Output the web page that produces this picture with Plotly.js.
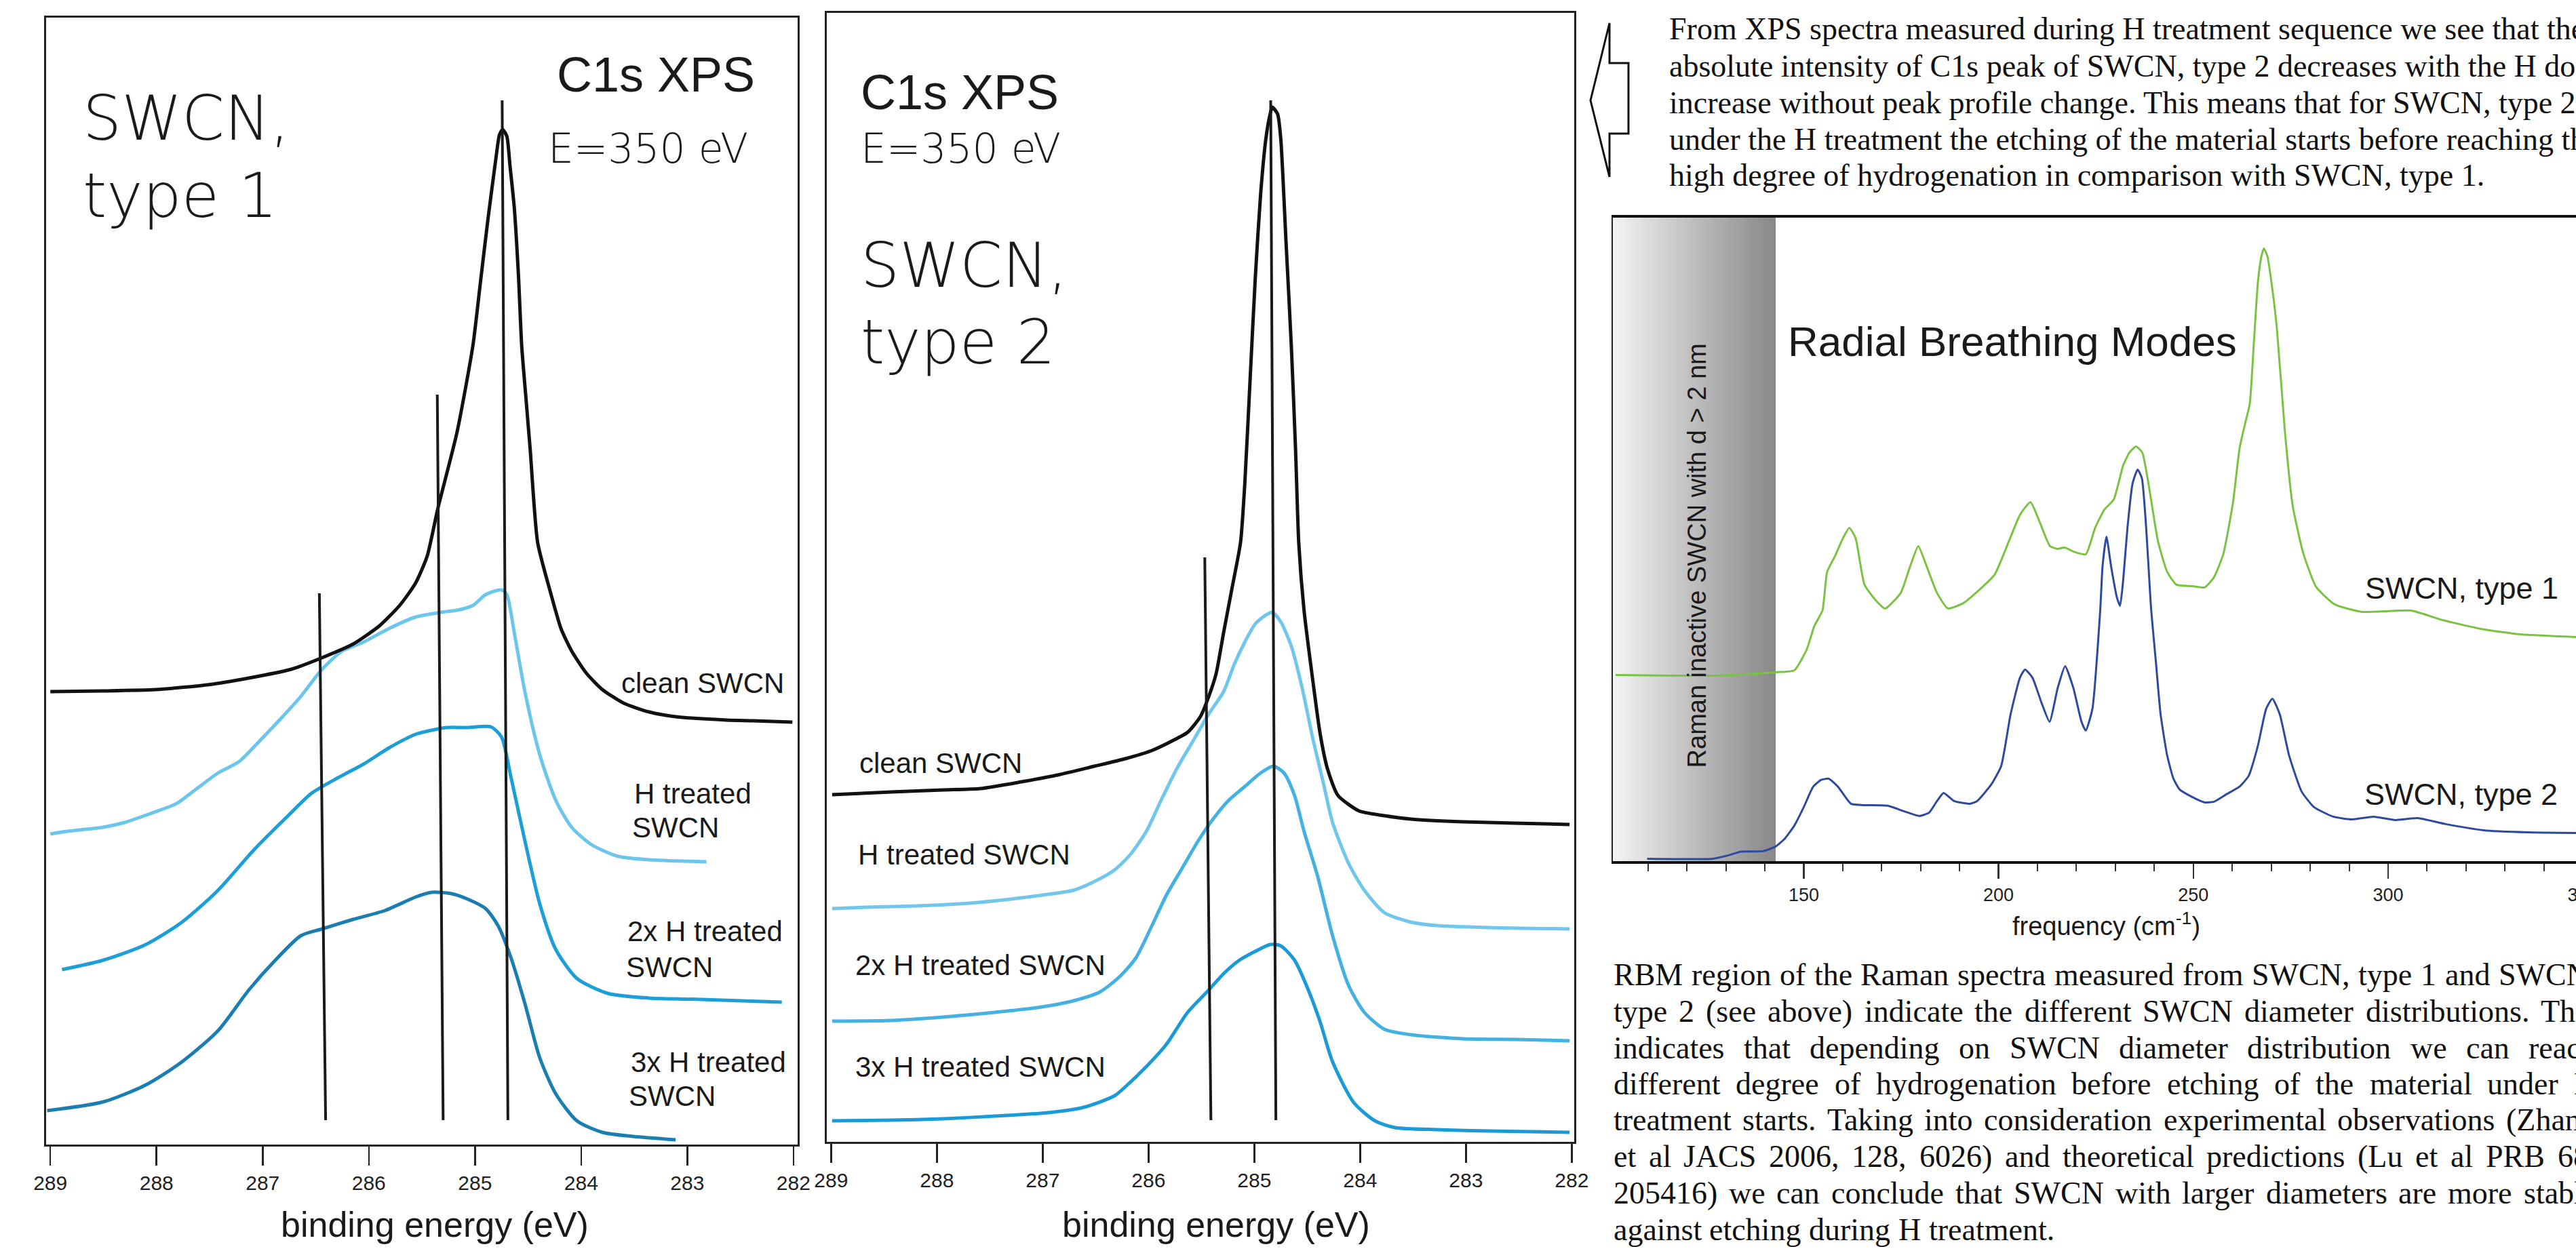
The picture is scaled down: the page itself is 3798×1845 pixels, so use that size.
<!DOCTYPE html>
<html><head><meta charset="utf-8">
<script src="https://cdn.plot.ly/plotly-3.0.1.min.js"></script>
<style>
html,body{margin:0;padding:0;background:#fff;overflow:hidden;}
#wrap{width:3798px;height:1845px;overflow:hidden;position:relative;background:#fff;}
#plot{width:3900px;height:1845px;}
</style></head><body>
<div id="wrap"><div id="plot"></div></div>
<script>
// ================= DATA =================
const xpsTicks = [289, 288, 287, 286, 285, 284, 283, 282];

// ---- Panel 1 : SWCN, type 1  (binding energy eV, intensity a.u.) ----
const p1CleanE = [289.00,288.50,288.01,287.52,287.13,286.73,286.44,286.15,285.90,285.71,285.56,285.45,285.35,285.17,285.02,284.95,284.88,284.80,284.77,284.74,284.70,284.67,284.63,284.59,284.56,284.52,284.48,284.41,284.29,284.19,284.09,283.95,283.80,283.60,283.36,283.11,282.63,282.38,282.01];
const p1CleanI = [66.8,66.9,67.1,67.8,68.8,70.1,71.8,73.8,76.5,79.5,82.8,86.8,93.8,105.0,117.8,127.0,136.2,145.8,148.9,149.7,148.7,144.3,138.2,128.0,117.8,110.1,102.5,88.8,81.5,76.1,72.8,69.5,67.1,65.1,63.8,63.1,62.6,62.5,62.3];
const p1H1E = [289.00,288.84,288.50,288.30,288.06,287.81,287.62,287.42,287.22,287.03,286.83,286.64,286.44,286.25,286.05,285.81,285.56,285.32,285.17,285.02,284.90,284.75,284.70,284.63,284.53,284.39,284.24,284.09,283.90,283.65,283.36,282.82];
const p1H1I = [45.8,46.2,46.8,47.5,48.8,50.3,52.5,54.8,56.5,59.5,62.8,66.1,70.1,72.8,74.1,76.1,77.8,78.5,78.8,79.5,81.1,81.8,81.1,75.5,66.8,57.5,50.8,46.8,44.2,42.5,42.0,41.7];
const p1H2E = [288.89,288.50,288.10,287.76,287.42,287.08,286.78,286.54,286.29,286.05,285.81,285.56,285.41,285.27,285.07,284.85,284.75,284.66,284.53,284.39,284.24,284.04,283.75,283.36,282.87,282.11];
const p1H2I = [25.8,27.2,29.5,32.8,37.5,43.5,48.2,51.8,54.1,56.1,58.5,60.5,61.1,61.5,61.5,61.6,60.1,54.1,44.8,35.5,28.8,24.5,22.3,21.6,21.4,21.0];
const p1H3E = [289.03,288.50,288.10,287.76,287.42,287.13,286.88,286.64,286.44,286.15,285.85,285.56,285.41,285.22,285.07,284.90,284.78,284.66,284.53,284.39,284.24,284.04,283.80,283.51,283.11];
const p1H3I = [5.0,6.3,8.8,12.2,16.8,22.8,27.2,30.8,31.8,33.2,34.5,36.5,37.2,37.0,36.2,34.8,32.2,27.5,20.8,12.8,7.5,3.5,1.8,1.2,0.7];
const p1MarkE = [[286.466,286.407],[285.355,285.300],[284.744,284.690]];
const p1MarkI = [[81.3,3.6],[110.6,3.6],[154.0,3.6]];

// ---- Panel 2 : SWCN, type 2 ----
const p2CleanE = [288.99,288.43,287.94,287.59,287.20,286.86,286.51,286.22,285.97,285.78,285.63,285.51,285.43,285.36,285.29,285.21,285.13,285.09,285.04,284.99,284.94,284.89,284.85,284.83,284.78,284.75,284.70,284.65,284.61,284.58,284.53,284.45,284.38,284.31,284.21,284.01,283.77,283.52,283.03,282.54,282.02];
const p2CleanI = [51.2,51.6,51.9,52.1,53.1,54.1,55.4,56.5,57.7,59.1,60.4,62.7,65.7,69.1,75.1,81.7,88.4,97.0,112.3,127.6,139.8,148.0,151.6,152.6,151.6,148.0,132.7,117.4,102.1,88.4,78.4,68.4,60.4,55.1,51.1,48.8,48.1,47.6,47.2,47.0,46.8];
const p2H1E = [288.99,288.67,288.18,287.69,287.30,287.00,286.71,286.51,286.32,286.17,286.02,285.88,285.73,285.58,285.43,285.29,285.19,285.09,284.99,284.89,284.83,284.75,284.65,284.55,284.45,284.35,284.26,284.11,283.96,283.77,283.52,283.28,282.78,282.02];
const p2H1I = [34.4,34.6,34.8,35.2,35.8,36.4,37.1,38.4,40.1,42.4,45.8,50.4,55.1,59.1,63.1,66.4,70.4,73.7,76.4,77.7,78.1,76.7,73.1,67.1,59.7,53.1,47.1,41.1,37.1,33.8,32.4,31.9,31.6,31.4];
const p2H2E = [288.99,288.43,287.94,287.45,287.05,286.71,286.46,286.27,286.12,285.97,285.83,285.68,285.53,285.38,285.24,285.09,284.94,284.82,284.72,284.62,284.53,284.40,284.26,284.11,283.96,283.77,283.52,283.03,282.54,282.02];
const p2H2I = [17.8,17.9,18.4,19.1,19.8,20.8,22.1,24.4,27.1,31.8,36.4,40.4,44.4,47.8,50.4,52.4,54.4,55.4,54.4,51.1,45.8,39.1,30.4,23.1,19.1,16.6,15.8,15.2,15.1,14.9];
const p2H3E = [288.99,288.43,287.94,287.45,286.95,286.61,286.32,286.22,286.02,285.83,285.63,285.43,285.29,285.14,284.99,284.85,284.75,284.62,284.50,284.38,284.26,284.06,283.86,283.67,283.28,282.78,282.02];
const p2H3I = [3.1,3.2,3.4,3.8,4.3,5.1,6.8,8.1,11.1,14.4,19.1,22.4,24.8,26.8,28.1,29.1,28.9,26.8,22.8,17.8,11.8,5.8,3.1,2.1,1.8,1.6,1.4];
const p2MarkE = [[285.468,285.410],[284.845,284.796]];
const p2MarkI = [[86.2,3.2],[153.6,3.2]];

// ---- Raman RBM (frequency cm-1, intensity a.u.) ----
const ramanF1 = [101.7,128.3,142.8,147.6,150.8,152.7,154.8,156.0,158.0,160.1,161.7,163.3,165.6,168.5,170.9,174.9,177.3,179.4,181.3,184.2,187.0,191.0,194.2,199.0,203.0,205.5,208.2,210.6,213.2,215.1,217.0,219.2,222.4,224.8,227.2,229.6,232.0,233.6,235.3,236.9,238.5,240.9,243.3,245.7,249.7,252.9,255.3,257.7,260.2,261.9,263.4,264.5,265.6,266.6,267.4,268.1,269.0,269.8,271.4,273.5,275.5,278.2,281.5,286.3,293.3,305.9,313.9,323.8,333.8,348.3];
const ramanI1 = [27.5,27.4,27.9,28.2,31.3,34.7,37.0,42.7,45.0,47.7,49.2,47.7,40.8,38.5,37.3,39.6,43.5,46.5,43.9,39.6,37.3,38.1,39.6,42.3,47.7,51.1,53.0,50.0,46.5,46.1,46.3,45.7,45.3,49.2,51.9,53.4,58.4,60.3,61.2,60.3,55.7,47.3,42.7,40.8,40.6,40.4,41.9,45.3,53.0,61.0,64.8,67.5,77.0,85.5,89.0,90.4,89.3,86.5,79.0,63.5,52.5,45.5,40.5,37.9,36.8,37.0,35.6,34.3,33.5,33.1];
const ramanF2 = [109.8,126.7,130.7,133.9,139.5,142.8,145.2,147.6,150.0,152.4,154.4,156.4,158.8,162.1,165.3,171.7,175.7,179.7,182.2,184.2,185.9,188.6,192.6,194.5,198.2,200.7,203.1,205.5,206.8,208.7,211.1,213.1,215.2,217.1,219.2,221.3,222.4,224.1,226.1,226.7,227.7,228.9,230.4,231.2,232.0,233.1,234.4,235.7,236.8,237.9,238.9,239.2,240.4,241.6,243.3,244.9,246.5,249.7,252.9,255.3,258.5,261.8,264.2,266.6,268.7,270.3,272.2,274.6,277.8,281.0,285.9,290.7,296.3,301.9,307.6,314.8,324.5,335.7,348.3];
const ramanI2 = [0.4,0.4,0.9,1.45,1.5,2.2,3.4,5.3,8.0,11.0,12.0,12.2,11.0,8.5,8.3,8.2,7.4,6.7,7.2,8.9,10.1,8.9,8.5,8.9,11.4,14.1,21.7,27.1,28.3,27.1,23.3,20.6,25.6,28.8,25.6,20.6,19.3,22.5,37.0,43.5,47.9,43.5,38.9,37.7,41.5,49.2,55.7,57.8,56.5,49.2,39.6,37.0,29.4,21.7,15.6,12.2,10.6,9.5,8.7,8.8,9.9,11.0,12.6,17.1,22.5,24.0,21.7,15.6,10.3,8.0,6.6,6.2,6.6,6.1,6.4,5.5,4.6,4.3,4.2];

// ---- Texts ----
const topParagraph = [
  "From XPS spectra measured during H treatment sequence we see that the",
  "absolute intensity of C1s peak of SWCN, type 2 decreases with the H dose",
  "increase without peak profile change. This means that for SWCN, type 2",
  "under the H treatment the etching of the material starts before reaching the",
  "high degree of hydrogenation in comparison with SWCN, type 1."
];
const bottomParagraph = [
  "RBM region of the Raman spectra measured from SWCN, type 1 and SWCN,",
  "type 2 (see above) indicate the different SWCN diameter distributions. This",
  "indicates that depending on SWCN diameter distribution we can reach",
  "different degree of hydrogenation before etching of the material under H",
  "treatment starts. Taking into consideration experimental observations (Zhang",
  "et al JACS 2006, 128, 6026) and theoretical predictions (Lu et al PRB 68,",
  "205416) we can conclude that SWCN with larger diameters are more stable",
  "against etching during H treatment."
];

// ================= LAYOUT / STYLE =================
const W = 3900, H = 1845;
const px = v => v / W, py = v => 1 - v / H;
const SANS = 'Liberation Sans, Arial, sans-serif';
const GEO = 'DejaVu Sans, Liberation Sans, sans-serif';
const SERIF = 'Liberation Serif, Times New Roman, serif';

const colClean = '#111111';
const p1Colors = ['#6cc5ea', '#1c9fd6', '#1a7fb0'];
const p2Colors = ['#71c7eb', '#45b1e2', '#1a9ad6'];
const colGreen = '#7cc242', colBlue = '#2e4a9e';

function line(x, y, xa, ya, color, width, smooth) {
  return {x: x, y: y, xaxis: xa, yaxis: ya, type: 'scatter', mode: 'lines',
    line: smooth ? {color: color, width: width, shape: 'spline', smoothing: smooth} : {color: color, width: width},
    hoverinfo: 'skip', showlegend: false};
}

const traces = [];
traces.push(line(ramanF1, ramanI1, 'x3', 'y3', colGreen, 3, 0.5));
traces.push(line(ramanF2, ramanI2, 'x3', 'y3', colBlue, 3, 0.5));
traces.push(line(p1H3E, p1H3I, 'x', 'y', p1Colors[2], 5, 0.7));
traces.push(line(p1H2E, p1H2I, 'x', 'y', p1Colors[1], 5, 0.7));
traces.push(line(p1H1E, p1H1I, 'x', 'y', p1Colors[0], 5, 0.7));
traces.push(line(p1CleanE, p1CleanI, 'x', 'y', colClean, 5, 0.6));
p1MarkE.forEach((e, i) => traces.push(line(e, p1MarkI[i], 'x', 'y', '#1a1a1a', 4)));
traces.push(line(p2H3E, p2H3I, 'x2', 'y2', p2Colors[2], 5, 0.7));
traces.push(line(p2H2E, p2H2I, 'x2', 'y2', p2Colors[1], 5, 0.7));
traces.push(line(p2H1E, p2H1I, 'x2', 'y2', p2Colors[0], 5, 0.7));
traces.push(line(p2CleanE, p2CleanI, 'x2', 'y2', colClean, 5, 0.6));
p2MarkE.forEach((e, i) => traces.push(line(e, p2MarkI[i], 'x2', 'y2', '#1a1a1a', 4)));

function xpsX(dom, range, anchor) {
  return {domain: dom, range: range, anchor: anchor, tickmode: 'array', tickvals: xpsTicks,
    ticktext: xpsTicks.map(String), ticks: 'outside', ticklen: 28, tickwidth: 2.5, tickcolor: '#222',
    tickfont: {family: SANS, size: 30, color: '#222'}, showline: true, mirror: true,
    linecolor: '#222', linewidth: 3, showgrid: false, zeroline: false, fixedrange: true};
}
function plainY(dom, range, anchor, lw, mirror) {
  return {domain: dom, range: range, anchor: anchor, showline: true, mirror: mirror,
    linecolor: '#222', linewidth: lw, ticks: '', showticklabels: false, showgrid: false,
    zeroline: false, fixedrange: true};
}

const annotations = [];
function txt(t, xref, yref, x, y, size, xanchor, extra, family, weight) {
  const font = {family: family || SANS, size: size, color: '#1a1a1a'};
  if (weight) font.weight = weight;
  annotations.push(Object.assign({text: t, xref: xref, yref: yref, x: x, y: y, xanchor: xanchor,
    yanchor: 'middle', showarrow: false, borderpad: 0, borderwidth: 0, font: font}, extra || {}));
}
// Panel 1 texts
txt('C1s XPS', 'x', 'y', 282.362, 157.8, 72, 'right');
txt('E=350 eV', 'x', 'y', 282.43, 60 === 60 ? 146.9 : 146.9, 60, 'right', null, GEO, 200);
txt('SWCN,', 'x', 'y', 288.694, 151.3, 90, 'left', null, GEO, 200);
txt('type 1', 'x', 'y', 288.694, 139.9, 90, 'left', null, GEO, 200);
txt('clean SWCN', 'x', 'y', 282.09, 68.1, 42, 'right');
txt('H treated', 'x', 'y', 283.50, 51.8, 42, 'left');
txt('SWCN', 'x', 'y', 283.52, 46.8, 42, 'left');
txt('2x H treated', 'x', 'y', 283.565, 31.5, 42, 'left');
txt('SWCN', 'x', 'y', 283.58, 26.2, 42, 'left');
txt('3x H treated', 'x', 'y', 283.53, 12.2, 42, 'left');
txt('SWCN', 'x', 'y', 283.55, 7.2, 42, 'left');
txt('binding energy (eV)', 'paper', 'paper', px(641), py(1806), 52, 'center');
// Panel 2 texts
txt('C1s XPS', 'x2', 'y2', 288.72, 154.8, 72, 'left');
txt('E=350 eV', 'x2', 'y2', 288.72, 146.5, 60, 'left', null, GEO, 200);
txt('SWCN,', 'x2', 'y2', 288.72, 129.3, 90, 'left', null, GEO, 200);
txt('type 2', 'x2', 'y2', 288.72, 118.0, 90, 'left', null, GEO, 200);
txt('clean SWCN', 'x2', 'y2', 288.73, 55.9, 42, 'left');
txt('H treated SWCN', 'x2', 'y2', 288.745, 42.4, 42, 'left');
txt('2x H treated SWCN', 'x2', 'y2', 288.77, 26.1, 42, 'left');
txt('3x H treated SWCN', 'x2', 'y2', 288.77, 11.1, 42, 'left');
txt('binding energy (eV)', 'paper', 'paper', px(1793), py(1806), 52, 'center');
// Raman texts
txt('Radial Breathing Modes', 'x3', 'y3', 145.9, 76.7, 62, 'left');
txt('SWCN, type 1', 'x3', 'y3', 294.1, 40.3, 45, 'left');
txt('SWCN, type 2', 'x3', 'y3', 293.9, 9.9, 45, 'left');
txt('Raman inactive SWCN with d > 2 nm', 'x3', 'y3', 122.6, 45.1, 38, 'center', {textangle: -90});
txt('frequency (cm<sup>-1</sup>)', 'paper', 'paper', px(3105), py(1363), 38, 'center');

// Paragraphs
const cv = document.createElement('canvas').getContext('2d');
const paraSize = 46;
cv.font = paraSize + 'px "Liberation Serif"';
function paragraphLines(lines, left, yMid) {
  lines.forEach((ln, i) => {
    annotations.push({text: ln, xref: 'paper', yref: 'paper', x: px(left), y: py(yMid[i]),
      xanchor: 'left', yanchor: 'middle', showarrow: false, borderpad: 0, borderwidth: 0,
      font: {family: SERIF, size: paraSize, color: '#111'}});
  });
}
function justifiedLines(lines, left, right, yMid) {
  const sp = cv.measureText(' ').width;
  lines.forEach((ln, i) => {
    const words = ln.split(' ');
    const widths = words.map(w => cv.measureText(w).width);
    const total = widths.reduce((a, b) => a + b, 0);
    const last = i === lines.length - 1;
    const gap = (!last && words.length > 1) ? (right - left - total) / (words.length - 1) : sp;
    let x = left;
    words.forEach((w, k) => {
      annotations.push({text: w, xref: 'paper', yref: 'paper', x: px(x), y: py(yMid[i]),
        xanchor: 'left', yanchor: 'middle', showarrow: false, borderpad: 0, borderwidth: 0,
        font: {family: SERIF, size: paraSize, color: '#111'}});
      x += widths[k] + gap;
    });
  });
}
paragraphLines(topParagraph, 2461, [43, 97, 151, 205, 259]);
justifiedLines(bottomParagraph, 2378.7, 3828, [1437, 1491, 1545, 1598, 1651, 1705, 1759, 1813]);

// Shapes: grey gradient band (Raman inactive region) and the outline arrow
const shapes = [];
const gx0 = 100.95, gx1 = 142.8, nStrip = 60;
for (let i = 0; i < nStrip; i++) {
  const t = i / (nStrip - 1);
  const c = Math.round(243 - (243 - 136) * t);
  const a = gx0 + (gx1 - gx0) * i / nStrip, b = gx0 + (gx1 - gx0) * (i + 1) / nStrip;
  shapes.push({type: 'rect', xref: 'x3', yref: 'y3 domain', x0: a, x1: Math.min(b + 0.05, gx1), y0: 0, y1: 1,
    fillcolor: `rgb(${c},${c},${c})`, line: {width: 0}, layer: 'below'});
}
const arrowPts = [[2345,148],[2373,34],[2373,93],[2401,93],[2401,197],[2373,197],[2373,261]];
shapes.push({type: 'path', xref: 'paper', yref: 'paper',
  path: 'M ' + arrowPts.map(p => px(p[0]) + ',' + py(p[1])).join(' L ') + ' Z',
  line: {color: '#111', width: 3}, fillcolor: 'rgba(0,0,0,0)'});

const layout = {
  width: W, height: H, autosize: false, margin: {l: 0, r: 0, t: 0, b: 0},
  paper_bgcolor: '#fff', plot_bgcolor: 'rgba(0,0,0,0)', showlegend: false,
  font: {family: SANS, color: '#1a1a1a'},
  xaxis: xpsX([px(68), px(1176)], [289.0396, 281.961], 'y'),
  yaxis: plainY([py(1688), py(25.5)], [0, 166.25], 'x', 3, true),
  xaxis2: xpsX([px(1219), px(2321)], [289.0404, 281.9763], 'y2'),
  yaxis2: plainY([py(1684), py(19)], [0, 166.5], 'x2', 3, true),
  xaxis3: {domain: [px(2377.7), 1], range: [100.95, 366.0], anchor: 'y3', tickmode: 'linear',
    tick0: 0, dtick: 50, ticks: 'outside', ticklen: 22, tickwidth: 2.5, tickcolor: '#333',
    minor: {dtick: 10, tick0: 0, ticks: 'outside', ticklen: 11, tickwidth: 2, tickcolor: '#333', showgrid: false},
    tickfont: {family: SANS, size: 27, color: '#222'}, showline: true, mirror: true,
    linecolor: '#111', linewidth: 4, showgrid: false, zeroline: false, fixedrange: true},
  yaxis3: plainY([py(1270.4), py(321)], [0, 94.94], 'x3', 2, false),
  annotations: annotations,
  shapes: shapes
};

Plotly.newPlot('plot', traces, layout, {staticPlot: true, displayModeBar: false});
</script>
</body></html>
